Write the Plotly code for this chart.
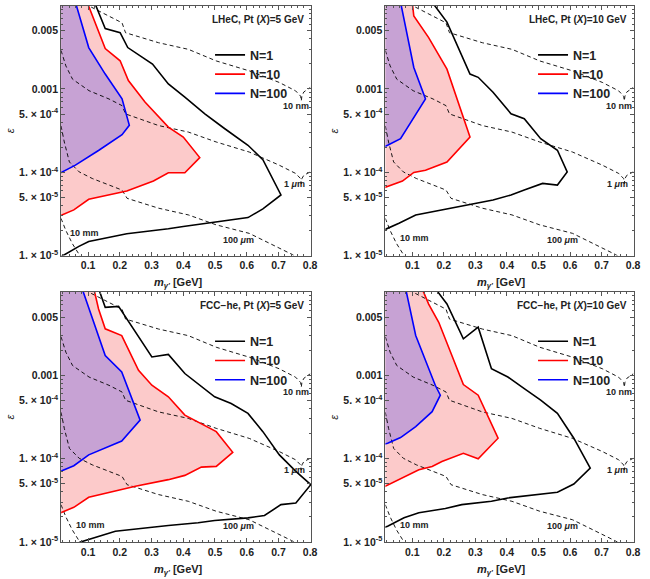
import math
import plotly.graph_objects as go

# ---------------- decay-length contours (same in all panels) ----------------
C10NM_X = [0.09, 0.207, 0.218, 0.322, 0.416, 0.504, 0.608, 0.702, 0.754, 0.766, 0.770, 0.772, 0.774, 0.780, 0.80]
C10NM_Y = [0.0105, 0.00622, 0.00473, 0.00359, 0.00299, 0.00217, 0.00165, 0.0012, 0.00095, 0.00086, 0.00082, 0.00072, 0.00082, 0.00092, 0.00104]
C1UM_X = [0.0147, 0.030, 0.051, 0.103, 0.166, 0.207, 0.218, 0.322, 0.416, 0.504, 0.608, 0.702, 0.754, 0.766, 0.770, 0.772, 0.774, 0.780, 0.80]
C1UM_Y = [0.0029, 0.00189, 0.00131, 0.000953, 0.000758, 0.000631, 0.000502, 0.000364, 0.000304, 0.000231, 0.000175, 0.000122, 9.7e-5, 8.7e-5, 8.4e-5, 7.3e-5, 8.4e-5, 9.2e-5, 1.01e-4]
C100UM_X = [0.0147, 0.025, 0.041, 0.072, 0.113, 0.166, 0.207, 0.223, 0.322, 0.416, 0.504, 0.608, 0.692, 0.744, 0.78]
C100UM_Y = [0.00036, 0.000231, 0.000133, 0.000101, 8.43e-5, 7.02e-5, 6.12e-5, 4.87e-5, 3.71e-5, 3.08e-5, 2.34e-5, 1.85e-5, 1.29e-5, 1.03e-5, 8.5e-6]
C10MM_X = [0.0147, 0.03, 0.05, 0.072, 0.09]
C10MM_Y = [2.8e-5, 2.0e-5, 1.4e-5, 1.0e-5, 8e-6]

# ---------------- LHeC, Pt(X)=5 GeV ----------------
A_N1_X = [0.12, 0.154, 0.201, 0.225, 0.303, 0.353, 0.405, 0.468, 0.531, 0.604, 0.651, 0.708, 0.651, 0.604, 0.400, 0.353, 0.222, 0.102, 0.071, 0.024, 0.0]
A_N1_Y = [0.011, 0.0053, 0.00474, 0.00314, 0.00199, 0.00115, 0.000796, 0.000503, 0.000333, 0.000211, 0.000142, 5.35e-5, 3.64e-5, 2.86e-5, 2.24e-5, 2.10e-5, 1.83e-5, 1.48e-5, 1.29e-5, 1.0e-5, 9e-6]
A_N10_X = [0.097, 0.154, 0.201, 0.227, 0.280, 0.353, 0.400, 0.452, 0.405, 0.353, 0.306, 0.222, 0.102, 0.055, 0.013]
A_N10_Y = [0.011, 0.00305, 0.00218, 0.00126, 0.000693, 0.000349, 0.000265, 0.000150, 9.86e-5, 9.86e-5, 7.85e-5, 5.96e-5, 4.74e-5, 3.54e-5, 3.03e-5]
A_N100_X = [0.060, 0.102, 0.154, 0.207, 0.230, 0.207, 0.134, 0.060, 0.013]
A_N100_Y = [0.011, 0.00314, 0.00151, 0.00076, 0.000366, 0.000283, 0.000184, 0.000122, 9.86e-5]

# ---------------- LHeC, Pt(X)=10 GeV ----------------
B_N1_X = [0.163, 0.210, 0.283, 0.309, 0.356, 0.413, 0.455, 0.507, 0.560, 0.591, 0.560, 0.513, 0.455, 0.413, 0.356, 0.278, 0.111, 0.058, 0.022, 0.0]
B_N1_Y = [0.011, 0.00635, 0.00151, 0.00138, 0.000912, 0.000504, 0.000439, 0.000253, 0.000184, 0.000101, 7.03e-5, 7.36e-5, 6.13e-5, 5.34e-5, 4.66e-5, 4.06e-5, 3.08e-5, 2.45e-5, 2.14e-5, 1.95e-5]
B_N10_X = [0.100, 0.105, 0.152, 0.210, 0.283, 0.210, 0.142, 0.105, 0.069, 0.022, 0.0]
B_N10_Y = [0.011, 0.0075, 0.00413, 0.00173, 0.000265, 0.000133, 0.000106, 9.95e-5, 7.85e-5, 6.71e-5, 6.3e-5]
B_N100_X = [0.063, 0.105, 0.142, 0.116, 0.063, 0.022, 0.0]
B_N100_Y = [0.011, 0.00181, 0.00076, 0.000527, 0.000253, 0.000211, 0.000195]

# ---------------- FCC-he, Pt(X)=5 GeV ----------------
C_N1_X = [0.133, 0.154, 0.196, 0.301, 0.353, 0.405, 0.499, 0.551, 0.604, 0.651, 0.703, 0.755, 0.802, 0.755, 0.708, 0.656, 0.604, 0.499, 0.447, 0.353, 0.186, 0.102, 0.076, 0.05]
C_N1_Y = [0.011, 0.00653, 0.00671, 0.00166, 0.00178, 0.00105, 0.000552, 0.000459, 0.000349, 0.000211, 0.000111, 7.03e-5, 4.88e-5, 2.94e-5, 2.81e-5, 2.08e-5, 1.95e-5, 1.81e-5, 1.70e-5, 1.58e-5, 1.35e-5, 1.08e-5, 1.0e-5, 9e-6]
C_N10_X = [0.118, 0.133, 0.154, 0.206, 0.259, 0.301, 0.353, 0.405, 0.504, 0.556, 0.504, 0.457, 0.405, 0.353, 0.249, 0.102, 0.055, 0.013]
C_N10_Y = [0.011, 0.00624, 0.00361, 0.0030, 0.00115, 0.00076, 0.000552, 0.000333, 0.000211, 0.000119, 8.07e-5, 7.92e-5, 6.3e-5, 5.6e-5, 4.66e-5, 3.44e-5, 2.61e-5, 2.24e-5]
C_N100_X = [0.081, 0.154, 0.206, 0.264, 0.206, 0.102, 0.055, 0.013]
C_N100_Y = [0.011, 0.00173, 0.0011, 0.00029, 0.000163, 0.000111, 8.22e-5, 7.03e-5]

# ---------------- FCC-he, Pt(X)=10 GeV ----------------
D_N1_X = [0.173, 0.210, 0.262, 0.309, 0.351, 0.403, 0.455, 0.507, 0.560, 0.612, 0.664, 0.612, 0.560, 0.507, 0.403, 0.351, 0.257, 0.205, 0.121, 0.074, 0.022, 0.0]
D_N1_Y = [0.011, 0.00716, 0.00274, 0.00378, 0.0012, 0.000955, 0.000693, 0.000503, 0.000349, 0.000176, 7.71e-5, 4.97e-5, 3.95e-5, 3.77e-5, 3.38e-5, 3.08e-5, 2.81e-5, 2.52e-5, 2.24e-5, 1.95e-5, 1.55e-5, 1.45e-5]
D_N10_X = [0.131, 0.152, 0.184, 0.262, 0.309, 0.372, 0.309, 0.262, 0.194, 0.163, 0.121, 0.058, 0.022, 0.0]
D_N10_Y = [0.011, 0.00716, 0.00433, 0.000774, 0.000577, 0.000176, 9.95e-5, 0.000116, 9.25e-5, 8.07e-5, 7.37e-5, 5.6e-5, 4.75e-5, 4.4e-5]
D_N100_X = [0.079, 0.111, 0.173, 0.189, 0.163, 0.111, 0.063, 0.022, 0.0]
D_N100_Y = [0.011, 0.003, 0.00076, 0.000577, 0.000366, 0.000242, 0.000179, 0.000153, 0.000145]

TITLES = ["LHeC, Pt (<i>X</i>)=5 GeV", "LHeC, Pt (<i>X</i>)=10 GeV",
          "FCC−he, Pt (<i>X</i>)=5 GeV", "FCC−he, Pt (<i>X</i>)=10 GeV"]
LEG_NAMES = ["N=1", "N=10", "N=100"]
CONTOUR_LABELS = ["10 nm", "1 <i>μ</i>m", "100 <i>μ</i>m", "10 mm"]
Y_TICKVALS = [1e-5, 5e-5, 1e-4, 5e-4, 1e-3, 5e-3]
Y_TICKTEXT = ["1. × 10<sup>-5</sup>", "5. × 10<sup>-5</sup>", "1. × 10<sup>-4</sup>",
              "5. × 10<sup>-4</sup>", "0.001", "0.005"]
X_TICKVALS = [0.1, 0.2, 0.3, 0.4, 0.5, 0.6, 0.7, 0.8]
X_TICKTEXT = ["0.1", "0.2", "0.3", "0.4", "0.5", "0.6", "0.7", "0.8"]

PANELS = [
    (A_N1_X, A_N1_Y, A_N10_X, A_N10_Y, A_N100_X, A_N100_Y),
    (B_N1_X, B_N1_Y, B_N10_X, B_N10_Y, B_N100_X, B_N100_Y),
    (C_N1_X, C_N1_Y, C_N10_X, C_N10_Y, C_N100_X, C_N100_Y),
    (D_N1_X, D_N1_Y, D_N10_X, D_N10_Y, D_N100_X, D_N100_Y),
]

# ---------------- layout geometry (pixels of 650x579 canvas) ----------------
W, H = 650, 579
XDOM = [(61.7 / W, 314 / W), (389 / W, 640 / W)]
YDOM = [((H - 258.3) / H, (H - 5.7) / H), ((H - 547.7) / H, (H - 295) / H)]
X_LEFT = 0.0  # left closure for fills (outside plot range)

FONT = "Liberation Sans, Arial, sans-serif"
FRAME = "#555555"
PINK = "rgb(252,202,202)"
PURPLE = "rgb(199,162,212)"

fig = go.Figure()

def closed(xs, ys):
    return (list(xs) + [X_LEFT, X_LEFT], list(ys) + [ys[-1], ys[0]])

for i, (n1x, n1y, n10x, n10y, n100x, n100y) in enumerate(PANELS):
    k = "" if i == 0 else str(i + 1)
    xa, ya = "x" + k, "y" + k
    leg = "legend" + k
    fx, fy = closed(n10x, n10y)
    fig.add_trace(go.Scatter(x=fx, y=fy, fill="toself", fillcolor=PINK, mode="none",
                             showlegend=False, xaxis=xa, yaxis=ya, hoverinfo="skip"))
    fx, fy = closed(n100x, n100y)
    fig.add_trace(go.Scatter(x=fx, y=fy, fill="toself", fillcolor=PURPLE, mode="none",
                             showlegend=False, xaxis=xa, yaxis=ya, hoverinfo="skip"))
    for cx, cy in [(C10NM_X, C10NM_Y), (C1UM_X, C1UM_Y), (C100UM_X, C100UM_Y), (C10MM_X, C10MM_Y)]:
        fig.add_trace(go.Scatter(x=cx, y=cy, mode="lines",
                                 line=dict(color="black", width=0.9, dash="4px,3px"),
                                 showlegend=False, xaxis=xa, yaxis=ya, hoverinfo="skip"))
    for (cx, cy), col, name in zip([(n1x, n1y), (n10x, n10y), (n100x, n100y)],
                                   ["black", "red", "blue"], LEG_NAMES):
        fig.add_trace(go.Scatter(x=cx, y=cy, mode="lines", name=name,
                                 line=dict(color=col, width=1.6),
                                 showlegend=True, legend=leg, xaxis=xa, yaxis=ya))

layout = dict(width=W, height=H, margin=dict(l=0, r=0, t=0, b=0),
              paper_bgcolor="white", plot_bgcolor="white", showlegend=True,
              font=dict(family=FONT, color="#222222"))

annotations = []
for i in range(4):
    col, row = i % 2, i // 2
    k = "" if i == 0 else str(i + 1)
    x0, x1 = XDOM[col]
    y0, y1 = YDOM[row]
    layout["xaxis" + k] = dict(
        domain=[x0, x1], range=[0.015, 0.803], anchor="y" + k,
        showline=True, linecolor=FRAME, linewidth=1, mirror="allticks",
        ticks="inside", ticklen=4, tickcolor=FRAME, tickwidth=0.8,
        tickvals=X_TICKVALS, ticktext=X_TICKTEXT,
        minor=dict(dtick=0.02, tick0=0, ticks="inside", ticklen=2, tickcolor=FRAME, tickwidth=0.8),
        tickfont=dict(family=FONT, size=10.5, weight="bold", color="#222222"),
        showgrid=False, zeroline=False)
    layout["yaxis" + k] = dict(
        domain=[y0, y1], type="log", range=[-5, -2], anchor="x" + k,
        showline=True, linecolor=FRAME, linewidth=1, mirror="allticks",
        ticks="inside", ticklen=4, tickcolor=FRAME, tickwidth=0.8,
        tickvals=Y_TICKVALS, ticktext=Y_TICKTEXT,
        minor=dict(dtick="D1", ticks="inside", ticklen=2, tickcolor=FRAME, tickwidth=0.8),
        tickfont=dict(family=FONT, size=10.5, weight="bold", color="#222222"),
        showgrid=False, zeroline=False)
    layout["legend" + k] = dict(
        x=x1 - (314 - 212) / W, y=y1 - 35 / H, xanchor="left", yanchor="top",
        bgcolor="rgba(0,0,0,0)", font=dict(family=FONT, size=12.5, weight="bold", color="#222222"),
        tracegroupgap=0, itemwidth=30)
    annotations.append(dict(text="<b>" + TITLES[i] + "</b>", xref="paper", yref="paper",
                            x=x1 - 5 / W, y=y1 - 14 / H, xanchor="right", yanchor="middle",
                            showarrow=False, font=dict(family=FONT, size=10, color="#222222")))
    annotations.append(dict(text="<b><i>m</i><sub><i>γ'</i></sub> [GeV]</b>", xref="paper", yref="paper",
                            x=(x0 + x1) / 2 - 8 / W, y=y0 - 28 / H, xanchor="center", yanchor="middle",
                            showarrow=False, font=dict(family=FONT, size=11, color="#222222")))
    annotations.append(dict(text="<i>ε</i>", xref="paper", yref="paper",
                            x=x0 - 52 / W, y=(y0 + y1) / 2, xanchor="center", yanchor="middle",
                            textangle=-90, showarrow=False, font=dict(family=FONT, size=11, color="#222222")))
    lab_pos = [(0.754, 6.3e-4), (0.752, 7.3e-5), (0.575, 1.55e-5),
               (0.09 if i == 0 else 0.108, 1.85e-5 if i == 0 else 1.62e-5)]
    for txt, (tx, ty) in zip(CONTOUR_LABELS, lab_pos):
        annotations.append(dict(text="<b>" + txt + "</b>", xref="x" + k, yref="y" + k,
                                x=tx, y=math.log10(ty), showarrow=False,
                                font=dict(family=FONT, size=9, color="#222222")))

layout["annotations"] = annotations
fig.update_layout(**layout)
fig.write_html("out.html")
